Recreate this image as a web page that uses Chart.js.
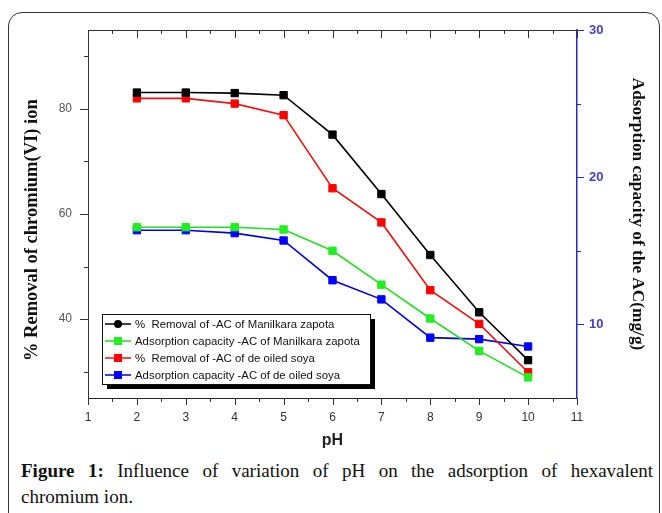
<!DOCTYPE html>
<html>
<head>
<meta charset="utf-8">
<script src="https://cdn.jsdelivr.net/npm/chart.js@4/dist/chart.umd.min.js"></script>
<style>
body { margin: 0; background: #fff; width: 662px; height: 513px; overflow: hidden; position: relative; }
#frame { position: absolute; left: 8px; top: 12px; width: 650px; height: 560px; border: 1px solid #333; border-radius: 14px; }
#graph { position: absolute; left: 0; top: 0; }
.cap { position: absolute; left: 21px; width: 632px; font-family: "Liberation Serif", serif; font-size: 19px; color: #111; white-space: nowrap; }
#cap1 { top: 460px; text-align: justify; text-align-last: justify; white-space: normal; }
#cap2 { top: 486px; }
</style>
</head>
<body>
<div id="frame"></div>
<canvas id="graph" width="662" height="460"></canvas>
<div class="cap" id="cap1"><b>Figure 1:</b> Influence of variation of pH on the adsorption of hexavalent</div>
<div class="cap" id="cap2">chromium ion.</div>
<script>
// values
var phValues = [2, 3, 4, 5, 6, 7, 8, 9, 10];
var removalZapota = [83.1, 83.1, 83.0, 82.6, 75.1, 63.8, 52.2, 41.3, 32.2];
var capacityZapota = [16.6, 16.6, 16.6, 16.45, 15.0, 12.7, 10.4, 8.2, 6.4];
var removalSoya = [82.0, 82.0, 81.0, 78.8, 64.9, 58.4, 45.5, 39.1, 29.9];
var capacitySoya = [16.4, 16.4, 16.2, 15.7, 13.0, 11.7, 9.1, 9.0, 8.5];

var seriesNames = [
    '%  Removal of -AC of Manilkara zapota',
    'Adsorption capacity -AC of Manilkara zapota',
    '%  Removal of -AC of de oiled soya',
    'Adsorption capacity -AC of de oiled soya'
];

var xTicks = [1, 2, 3, 4, 5, 6, 7, 8, 9, 10, 11];
var xMinor = [1.5, 2.5, 3.5, 4.5, 5.5, 6.5, 7.5, 8.5, 9.5, 10.5];
var leftTicks = [40, 60, 80];
var leftMinor = [30, 50, 70, 90];
var rightTicks = [10, 20, 30];
var rightMinor = [15, 25];

function toPoints(arr) {
    return phValues.map(function (x, i) { return { x: x, y: arr[i] }; });
}

function setTicks(list) {
    return function (scale) {
        scale.ticks = list.map(function (v) { return { value: v }; });
    };
}

var axisTicks = {
    id: 'axisTicks',
    afterDraw: function (chart) {
        var ctx = chart.ctx;
        var area = chart.chartArea;
        var sx = chart.scales.x, sy = chart.scales.y, sy1 = chart.scales.y1;
        ctx.save();
        ctx.lineWidth = 1;

        // top frame line
        ctx.strokeStyle = '#333';
        ctx.beginPath();
        ctx.moveTo(area.left, area.top + 0.5);
        ctx.lineTo(area.right, area.top + 0.5);
        ctx.stroke();

        function tick(x1, y1, x2, y2) {
            ctx.beginPath();
            ctx.moveTo(x1, y1);
            ctx.lineTo(x2, y2);
            ctx.stroke();
        }

        // bottom + top ticks
        xTicks.forEach(function (v) {
            var px = Math.round(sx.getPixelForValue(v)) + 0.5;
            tick(px, area.bottom, px, area.bottom + 7);
            tick(px, area.top, px, area.top + 8);
        });
        xMinor.forEach(function (v) {
            var px = Math.round(sx.getPixelForValue(v)) + 0.5;
            tick(px, area.bottom, px, area.bottom + 4);
            tick(px, area.top, px, area.top + 4);
        });

        // left ticks
        leftTicks.forEach(function (v) {
            var py = Math.round(sy.getPixelForValue(v)) + 0.5;
            tick(area.left, py, area.left - 8, py);
        });
        leftMinor.forEach(function (v) {
            var py = Math.round(sy.getPixelForValue(v)) + 0.5;
            tick(area.left, py, area.left - 4, py);
        });

        // right ticks
        ctx.strokeStyle = '#2a2ac8';
        rightTicks.forEach(function (v) {
            var py = Math.round(sy1.getPixelForValue(v)) + 0.5;
            tick(area.right, py, area.right + 7, py);
        });
        rightMinor.forEach(function (v) {
            var py = Math.round(sy1.getPixelForValue(v)) + 0.5;
            tick(area.right, py, area.right + 4, py);
        });

        // legend box
        var bx = area.left + 14, by = area.bottom - 84, bw = 268, bh = 70;
        ctx.fillStyle = '#000';
        ctx.fillRect(bx + 5, by + 5, bw, bh);
        ctx.fillStyle = '#fff';
        ctx.fillRect(bx, by, bw, bh);
        ctx.strokeStyle = '#111';
        ctx.strokeRect(bx + 0.5, by + 0.5, bw, bh);

        ctx.font = '11.4px "Liberation Sans", Arial, sans-serif';
        ctx.textBaseline = 'middle';
        chart.data.datasets.forEach(function (ds, i) {
            var ry = by + 10 + i * 17;
            ctx.strokeStyle = ds.borderColor;
            ctx.lineWidth = 1.5;
            tick(bx + 3, ry, bx + 29, ry);
            ctx.fillStyle = ds.pointBackgroundColor;
            if (i === 0) {
                ctx.beginPath();
                ctx.arc(bx + 16, ry, 4, 0, Math.PI * 2);
                ctx.fill();
            } else {
                ctx.fillRect(bx + 12, ry - 4, 8, 8);
            }
            ctx.fillStyle = '#111';
            ctx.fillText(ds.label, bx + 33, ry + 0.5);
        });
        ctx.restore();
    }
};

new Chart(document.getElementById('graph'), {
    type: 'line',
    data: {
        datasets: [{
            label: seriesNames[0],
            data: toPoints(removalZapota),
            yAxisID: 'y',
            borderColor: '#000000',
            pointBackgroundColor: '#000000',
            pointBorderColor: '#000000'
        }, {
            label: seriesNames[1],
            data: toPoints(capacityZapota),
            yAxisID: 'y1',
            borderColor: '#22dd22',
            pointBackgroundColor: '#22ee22',
            pointBorderColor: '#22ee22'
        }, {
            label: seriesNames[2],
            data: toPoints(removalSoya),
            yAxisID: 'y',
            borderColor: '#ee1111',
            pointBackgroundColor: '#ff0000',
            pointBorderColor: '#ff0000'
        }, {
            label: seriesNames[3],
            data: toPoints(capacitySoya),
            yAxisID: 'y1',
            borderColor: '#0000dd',
            pointBackgroundColor: '#0000ff',
            pointBorderColor: '#0000ff'
        }]
    },
    options: {
        responsive: false,
        animation: false,
        elements: {
            line: { borderWidth: 1.6, tension: 0 },
            point: { pointStyle: 'rect', radius: 5.2, borderWidth: 1 }
        },
        layout: { padding: { top: 30, left: 0, right: 0, bottom: 0 } },
        plugins: {
            legend: { display: false },
            tooltip: { enabled: false }
        },
        scales: {
            x: {
                type: 'linear',
                min: 1,
                max: 11,
                afterBuildTicks: setTicks(xTicks),
                afterFit: function (scale) { scale.height = 62; },
                grid: { drawOnChartArea: false, drawTicks: false },
                border: { color: '#222', width: 1 },
                ticks: { padding: 12, color: '#333', font: { family: 'Liberation Sans', size: 12 } },
                title: {
                    display: true,
                    text: 'pH',
                    color: '#222',
                    padding: { top: 0, bottom: 10 },
                    font: { family: 'Liberation Sans', size: 16, weight: 'bold' }
                }
            },
            y: {
                position: 'left',
                min: 25,
                max: 95,
                afterBuildTicks: setTicks(leftTicks),
                afterFit: function (scale) { scale.width = 88; },
                grid: { drawOnChartArea: false, drawTicks: false },
                border: { color: '#333', width: 1 },
                ticks: { padding: 16, color: '#555', font: { family: 'Liberation Sans', size: 12 } },
                title: {
                    display: true,
                    // trailing spaces push the visible text down a little, as in the figure
                    text: '% Removal of chromium(VI) ion       ',
                    color: '#111',
                    padding: { top: 21, bottom: 0 },
                    font: { family: 'Liberation Serif', size: 18.5, weight: 'bold' }
                }
            },
            y1: {
                position: 'right',
                min: 5,
                max: 30,
                afterBuildTicks: setTicks(rightTicks),
                afterFit: function (scale) { scale.width = 85; },
                grid: { drawOnChartArea: false, drawTicks: false },
                border: { color: '#2a2ac8', width: 1.5 },
                ticks: { padding: 12, color: '#4040d0', font: { family: 'Liberation Sans', size: 13, weight: 'bold' } },
                title: {
                    display: true,
                    text: 'Adsorption capacity of the AC(mg/g)',
                    color: '#111',
                    padding: { top: 14, bottom: 0 },
                    font: { family: 'Liberation Serif', size: 17.3, weight: 'bold' }
                }
            }
        }
    },
    plugins: [axisTicks]
});
</script>
</body>
</html>
